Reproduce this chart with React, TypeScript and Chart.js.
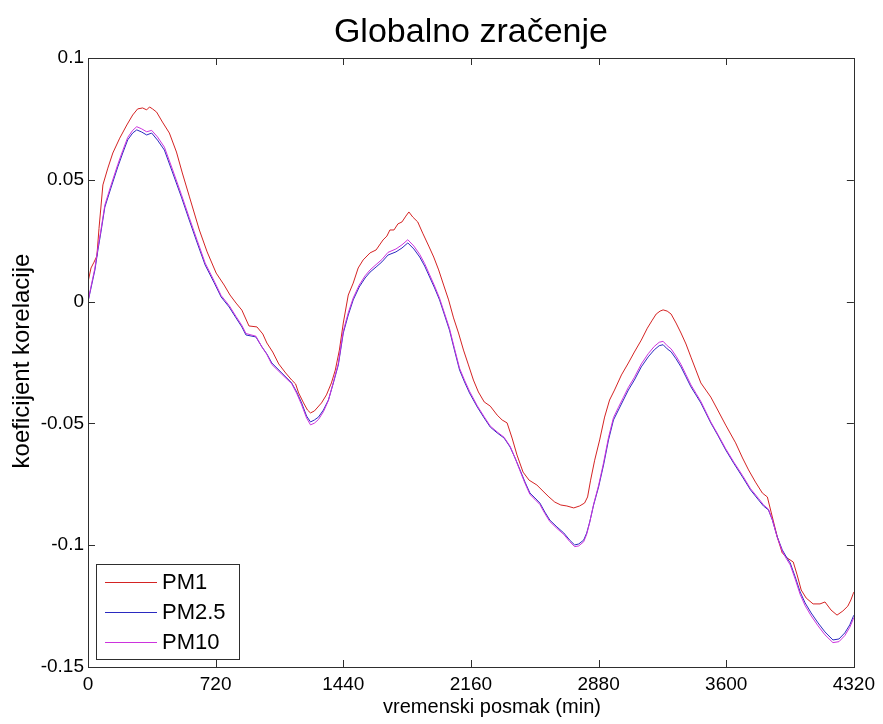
import React, { useEffect, useRef } from "react";
import { Chart, registerables } from "chart.js";

Chart.register(...registerables);

const TITLE = "Globalno zračenje";
const X_LABEL = "vremenski posmak (min)";
const Y_LABEL = "koeficijent korelacije";
const SERIES_NAMES = ["PM1", "PM2.5", "PM10"];
const X_TICKS = [0, 720, 1440, 2160, 2880, 3600, 4320];
const Y_TICKS = [-0.15, -0.1, -0.05, 0, 0.05, 0.1];

// PM1 (red)
const pm1Minutes = [
  0, 17, 34, 50, 62, 84, 112, 140, 179, 219, 252, 280, 308, 331, 347, 364, 387, 420, 459, 499,
  532, 571, 628, 672, 723, 768, 801, 835, 868, 908, 953, 986, 1009, 1042, 1076, 1115, 1149, 1171, 1188, 1216,
  1238, 1255, 1277, 1317, 1345, 1373, 1395, 1418, 1440, 1468, 1496, 1524, 1552, 1591, 1625, 1664, 1686, 1703, 1726, 1748,
  1771, 1793, 1810, 1832, 1860, 1888, 1922, 1950, 1978, 2006, 2034, 2062, 2090, 2118, 2146, 2174, 2202, 2235, 2269, 2308,
  2336, 2364, 2392, 2420, 2454, 2488, 2532, 2572, 2600, 2633, 2667, 2701, 2740, 2773, 2801, 2818, 2835, 2858, 2886, 2914,
  2942, 2970, 3009, 3048, 3082, 3121, 3155, 3183, 3205, 3227, 3244, 3267, 3289, 3317, 3345, 3373, 3401, 3429, 3457, 3485,
  3513, 3552, 3597, 3653, 3692, 3726, 3765, 3804, 3832, 3860, 3888, 3916, 3945, 3978, 4000, 4023, 4051, 4090, 4129, 4157,
  4191, 4225, 4258, 4286, 4303, 4320,
];
const pm1Values = [
  0.008, 0.0138, 0.0162, 0.0187, 0.03, 0.0479, 0.0548, 0.061, 0.0671, 0.0725, 0.0766, 0.0791, 0.0795, 0.0787, 0.0799, 0.0791, 0.0778, 0.0737, 0.0692, 0.0614,
  0.0528, 0.0433, 0.0294, 0.0204, 0.0117, 0.0068, 0.0027, -0.0006, -0.0035, -0.01, -0.0104, -0.0133, -0.017, -0.0207, -0.0256, -0.0293, -0.0322, -0.0338, -0.0375, -0.0416,
  -0.0445, -0.0457, -0.0449, -0.0416, -0.0383, -0.0334, -0.0281, -0.0199, -0.0088, 0.0027, 0.0076, 0.0138, 0.0171, 0.02, 0.0212, 0.0253, 0.0269, 0.0294, 0.0294, 0.0319,
  0.0327, 0.0351, 0.0368, 0.0347, 0.0327, 0.0281, 0.0228, 0.0183, 0.013, 0.0068, 0.0007, -0.0067, -0.0129, -0.0199, -0.026, -0.0322, -0.0371, -0.0412, -0.0429, -0.0466,
  -0.0486, -0.0498, -0.056, -0.063, -0.07, -0.0733, -0.0753, -0.0782, -0.0802, -0.0823, -0.0835, -0.0839, -0.0847, -0.0839, -0.0827, -0.0802, -0.0733, -0.0651, -0.0568, -0.0474,
  -0.0404, -0.0363, -0.0301, -0.0252, -0.0207, -0.0158, -0.0109, -0.0076, -0.0051, -0.0039, -0.0034, -0.0039, -0.0051, -0.0088, -0.0129, -0.0174, -0.0228, -0.0281, -0.0334, -0.0363,
  -0.0392, -0.0445, -0.0507, -0.058, -0.0642, -0.0691, -0.0741, -0.0786, -0.0802, -0.0884, -0.0966, -0.1032, -0.1053, -0.1069, -0.1122, -0.1184, -0.1217, -0.1241, -0.1241, -0.1233,
  -0.1266, -0.1287, -0.127, -0.125, -0.1225, -0.1192,
];

// PM2.5 and PM10 share the same lag samples
const pmMinutes = [
  0, 17, 39, 56, 73, 95, 129, 168, 196, 224, 252, 275, 303, 331, 359, 392, 431, 476, 527, 571,
  616, 661, 712, 751, 796, 835, 868, 891, 947, 981, 1009, 1037, 1093, 1149, 1177, 1205, 1233, 1255, 1277, 1300,
  1328, 1356, 1384, 1412, 1440, 1468, 1496, 1530, 1563, 1591, 1625, 1658, 1692, 1737, 1771, 1804, 1838, 1871, 1899, 1927,
  1955, 1983, 2011, 2039, 2067, 2096, 2124, 2152, 2196, 2235, 2269, 2308, 2347, 2381, 2409, 2437, 2465, 2493, 2521, 2549,
  2577, 2605, 2645, 2684, 2717, 2745, 2768, 2796, 2813, 2830, 2852, 2880, 2908, 2936, 2964, 2992, 3020, 3048, 3082, 3121,
  3160, 3194, 3222, 3244, 3267, 3289, 3317, 3345, 3373, 3401, 3429, 3457, 3485, 3513, 3552, 3597, 3642, 3692, 3737, 3782,
  3810, 3838, 3860, 3888, 3916, 3939, 3961, 3989, 4017, 4045, 4079, 4118, 4157, 4202, 4236, 4269, 4297, 4320,
];
const pm25Values = [
  0.0, 0.0056, 0.013, 0.0212, 0.0286, 0.0388, 0.0466, 0.0553, 0.061, 0.0664, 0.0692, 0.0705, 0.0696, 0.0684, 0.0692, 0.0663, 0.0622, 0.0532, 0.0429, 0.0335,
  0.0241, 0.015, 0.0077, 0.0019, -0.0022, -0.0067, -0.0104, -0.0137, -0.0145, -0.0186, -0.0215, -0.0252, -0.0293, -0.0334, -0.0371, -0.0416, -0.047, -0.0494, -0.0486, -0.0474,
  -0.0445, -0.0404, -0.0334, -0.026, -0.0129, -0.0055, 0.0007, 0.006, 0.0097, 0.0121, 0.0142, 0.0163, 0.0191, 0.0204, 0.022, 0.0241, 0.0216, 0.0183, 0.0146, 0.0101,
  0.0056, 0.0007, -0.0055, -0.0117, -0.0199, -0.0281, -0.033, -0.0375, -0.0433, -0.0478, -0.0515, -0.0539, -0.056, -0.0597, -0.0642, -0.0691, -0.0741, -0.0786, -0.0806, -0.0827,
  -0.0864, -0.0897, -0.0925, -0.095, -0.0979, -0.0999, -0.0995, -0.0979, -0.095, -0.0905, -0.0835, -0.0761, -0.0671, -0.0568, -0.0486, -0.0445, -0.0404, -0.0363, -0.0322, -0.0268,
  -0.0227, -0.0198, -0.0181, -0.0177, -0.0194, -0.0206, -0.0235, -0.0268, -0.0309, -0.035, -0.0383, -0.0416, -0.0457, -0.0498, -0.0548, -0.0609, -0.0663, -0.072, -0.0773, -0.0814,
  -0.0839, -0.0855, -0.0896, -0.0966, -0.1019, -0.1048, -0.1073, -0.113, -0.1192, -0.1237, -0.1278, -0.1319, -0.1356, -0.1389, -0.1385, -0.136, -0.1327, -0.1287,
];
const pm10Values = [
  0.0, 0.0062, 0.0138, 0.022, 0.0294, 0.0396, 0.0476, 0.0563, 0.062, 0.0674, 0.0703, 0.0718, 0.0709, 0.0697, 0.0703, 0.0676, 0.0634, 0.0544, 0.0439, 0.0345,
  0.0251, 0.0158, 0.0084, 0.0025, -0.0016, -0.0061, -0.0098, -0.0131, -0.0142, -0.0186, -0.0217, -0.0258, -0.0298, -0.0337, -0.0376, -0.0424, -0.0478, -0.0506, -0.0499, -0.0484,
  -0.0452, -0.0406, -0.0331, -0.0254, -0.0121, -0.0046, 0.0015, 0.0068, 0.0106, 0.013, 0.0152, 0.0173, 0.0202, 0.0216, 0.0233, 0.0254, 0.0228, 0.0194, 0.0156, 0.011,
  0.0064, 0.0014, -0.0048, -0.011, -0.0192, -0.0274, -0.0323, -0.0368, -0.0428, -0.0473, -0.0511, -0.0535, -0.0557, -0.0594, -0.0642, -0.0695, -0.0746, -0.0792, -0.0812, -0.0833,
  -0.087, -0.0903, -0.0931, -0.0956, -0.0985, -0.1006, -0.1003, -0.0986, -0.0955, -0.0906, -0.0832, -0.0755, -0.0662, -0.0558, -0.0476, -0.0434, -0.0393, -0.0352, -0.0311, -0.0256,
  -0.0214, -0.0184, -0.0167, -0.0163, -0.0181, -0.0194, -0.0224, -0.0258, -0.03, -0.0342, -0.0376, -0.041, -0.0452, -0.0494, -0.0544, -0.0604, -0.0658, -0.0714, -0.0768, -0.0808,
  -0.0834, -0.0852, -0.0895, -0.0968, -0.1024, -0.1055, -0.1081, -0.1139, -0.1202, -0.1248, -0.129, -0.1331, -0.1368, -0.14, -0.1396, -0.1371, -0.1337, -0.1297,
];

const COLORS = ["#d42323", "#2a2ac0", "#cc33dd"];
const AXIS_COLOR = "#2e2e2e";
const FONT = "'Liberation Sans', Arial, Helvetica, sans-serif";

const toPoints = (xs: number[], ys: number[]) => xs.map((x, i) => ({ x, y: ys[i] }));

const decorPlugin = {
  id: "matlabDecor",
  afterDraw(chart: any) {
    const { ctx, chartArea } = chart;
    const { left, right, top, bottom } = chartArea;
    const xs = chart.scales.x;
    const ys = chart.scales.y;
    ctx.save();
    // axes box
    ctx.strokeStyle = AXIS_COLOR;
    ctx.lineWidth = 1;
    ctx.strokeRect(Math.round(left) + 0.5, Math.round(top) + 0.5, Math.round(right - left), Math.round(bottom - top));
    // tick marks (inward, all four sides)
    const tl = 7;
    ctx.beginPath();
    X_TICKS.forEach((v) => {
      const px = Math.round(xs.getPixelForValue(v)) + 0.5;
      ctx.moveTo(px, bottom);
      ctx.lineTo(px, bottom - tl);
      ctx.moveTo(px, top);
      ctx.lineTo(px, top + tl);
    });
    Y_TICKS.forEach((v) => {
      const py = Math.round(ys.getPixelForValue(v)) + 0.5;
      ctx.moveTo(left, py);
      ctx.lineTo(left + tl, py);
      ctx.moveTo(right, py);
      ctx.lineTo(right - tl, py);
    });
    ctx.stroke();

    // title and axis labels
    ctx.fillStyle = "#000";
    ctx.textAlign = "center";
    ctx.textBaseline = "middle";
    ctx.font = `34px ${FONT}`;
    ctx.fillText(TITLE, (left + right) / 2, 33);
    ctx.font = `20px ${FONT}`;
    ctx.fillText(X_LABEL, 492, 707);
    ctx.save();
    ctx.translate(22, 361);
    ctx.rotate(-Math.PI / 2);
    ctx.font = `24px ${FONT}`;
    ctx.fillText(Y_LABEL, 0, 0);
    ctx.restore();

    // legend
    const lx = 96.5, ly = 564.5, lw = 143, lh = 95;
    ctx.fillStyle = "#fff";
    ctx.fillRect(lx, ly, lw, lh);
    ctx.strokeStyle = AXIS_COLOR;
    ctx.strokeRect(lx, ly, lw, lh);
    ctx.font = `22px ${FONT}`;
    ctx.textAlign = "left";
    SERIES_NAMES.forEach((name, i) => {
      const ry = 582 + i * 30;
      ctx.strokeStyle = COLORS[i];
      ctx.beginPath();
      ctx.moveTo(105, ry + 0.5);
      ctx.lineTo(157, ry + 0.5);
      ctx.stroke();
      ctx.fillStyle = "#000";
      ctx.fillText(name, 162, ry + 1);
    });
    ctx.restore();
  },
};

export default function App() {
  const ref = useRef<HTMLCanvasElement | null>(null);
  useEffect(() => {
    if (!ref.current) return;
    const chart = new Chart(ref.current, {
      type: "line",
      data: {
        datasets: [
          { label: SERIES_NAMES[0], data: toPoints(pm1Minutes, pm1Values), borderColor: COLORS[0], order: 3 },
          { label: SERIES_NAMES[1], data: toPoints(pmMinutes, pm25Values), borderColor: COLORS[1], order: 2 },
          { label: SERIES_NAMES[2], data: toPoints(pmMinutes, pm10Values), borderColor: COLORS[2], order: 1 },
        ].map((d) => ({ ...d, borderWidth: 1, pointRadius: 0, tension: 0, fill: false })),
      },
      options: {
        responsive: false,
        animation: false,
        layout: { padding: { top: 58, right: 24, left: 0, bottom: 0 } },
        plugins: { legend: { display: false }, title: { display: false }, tooltip: { enabled: false } },
        scales: {
          x: {
            type: "linear",
            min: 0,
            max: 4320,
            afterBuildTicks: (s: any) => { s.ticks = X_TICKS.map((v) => ({ value: v })); },
            afterFit: (s: any) => { s.height = 57; },
            grid: { display: false, drawTicks: false },
            border: { display: false },
            ticks: {
              color: "#000",
              font: { family: FONT, size: 19, lineHeight: 1 },
              padding: 8,
              maxRotation: 0,
              autoSkip: false,
              callback: (v: any) => String(v),
            },
          },
          y: {
            type: "linear",
            min: -0.15,
            max: 0.1,
            afterBuildTicks: (s: any) => { s.ticks = Y_TICKS.map((v) => ({ value: v })); },
            afterFit: (s: any) => { s.width = 88; },
            grid: { display: false, drawTicks: false },
            border: { display: false },
            ticks: {
              color: "#000",
              font: { family: FONT, size: 19 },
              padding: 4,
              autoSkip: false,
              callback: (v: any) => String(Number(Number(v).toFixed(2))),
            },
          },
        },
      },
      plugins: [decorPlugin],
    });
    return () => chart.destroy();
  }, []);
  return (
    <div style={{ position: "absolute", left: 0, top: 0, width: 883, height: 724, background: "#fff" }}>
      <canvas ref={ref} width={883} height={724} />
    </div>
  );
}
